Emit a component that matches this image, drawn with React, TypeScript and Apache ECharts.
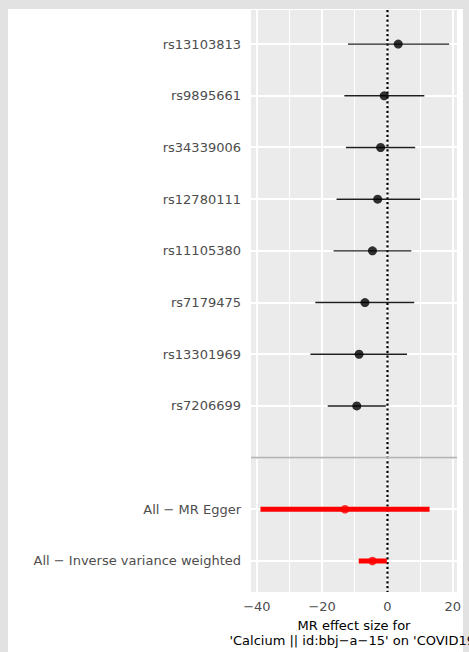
import React, { useEffect, useRef } from "react";
import * as echarts from "echarts";

// ---- data ----
const rowLabels = [
  "rs13103813",
  "rs9895661",
  "rs34339006",
  "rs12780111",
  "rs11105380",
  "rs7179475",
  "rs13301969",
  "rs7206699",
  "",
  "All − MR Egger",
  "All − Inverse variance weighted",
];
const snpRows = [0, 1, 2, 3, 4, 5, 6, 7];
const snpEffect = [3.3, -1.0, -2.1, -3.0, -4.6, -6.9, -8.7, -9.4];
const snpLower = [-12.1, -13.2, -12.7, -15.6, -16.5, -22.1, -23.6, -18.3];
const snpUpper = [18.9, 11.3, 8.5, 10.0, 7.3, 8.2, 6.0, -0.5];
const allRows = [9, 10];
const allEffect = [-13.0, -4.6];
const allLower = [-38.9, -8.8];
const allUpper = [12.9, -0.2];
const separatorRows = [8];
const xTicks = [-40, -20, 0, 20];
const xMinorGrid = [-30, -10, 10];
const zeroLine = [0];
const xMin = -41.8;
const xMax = 21.3;
const yMin = -0.66;
const yMax = 10.6;
const axisTitle = "MR effect size for\n'Calcium || id:bbj−a−15' on 'COVID19'";

const FONT = "DejaVu Sans";
const GRID_COLOR = "#ffffff";

export default function App() {
  const ref = useRef<HTMLDivElement>(null);

  useEffect(() => {
    if (!ref.current) return;
    const chart = echarts.init(ref.current, undefined, { renderer: "svg" });
    const rowIdx = rowLabels.map((_, i) => i);

    const panelItem = (params: any, api: any) => {
      const cs = params.coordSys;
      const children: any[] = [
        {
          type: "rect",
          shape: { x: cs.x, y: cs.y, width: cs.width, height: cs.height },
          style: { fill: "#ebebeb" },
        },
      ];
      const vl = (v: number, w: number) => {
        const raw = api.coord([v, 0])[0];
        const x = w % 2 === 0 ? Math.round(raw) : Math.floor(raw) + 0.5;
        children.push({
          type: "line",
          shape: { x1: x, y1: cs.y, x2: x, y2: cs.y + cs.height },
          style: { stroke: GRID_COLOR, lineWidth: w, fill: "none" },
        });
      };
      xMinorGrid.forEach((v) => vl(v, 1));
      xTicks.forEach((v) => vl(v, 2));
      rowIdx.forEach((i) => {
        const y = Math.round(api.coord([0, i])[1]);
        children.push({
          type: "line",
          shape: { x1: cs.x, y1: y, x2: cs.x + cs.width, y2: y },
          style: { stroke: GRID_COLOR, lineWidth: 2, fill: "none" },
        });
      });
      return { type: "group", children };
    };

    const vLine = (color: string, width: number, dash?: number[]) => (params: any, api: any) => {
      const cs = params.coordSys;
      const x = api.coord([api.value(0), 0])[0];
      return {
        type: "line",
        shape: { x1: x, y1: cs.y, x2: x, y2: cs.y + cs.height },
        style: { stroke: color, lineWidth: width, lineDash: dash },
      };
    };
    const hLine = (color: string, width: number) => (params: any, api: any) => {
      const cs = params.coordSys;
      const y = api.coord([0, api.value(1)])[1];
      return {
        type: "line",
        shape: { x1: cs.x, y1: y, x2: cs.x + cs.width, y2: y },
        style: { stroke: color, lineWidth: width },
      };
    };
    const errBar = (color: string, width: number) => (params: any, api: any) => {
      const p1 = api.coord([api.value(0), api.value(2)]);
      const p2 = api.coord([api.value(1), api.value(2)]);
      return {
        type: "line",
        shape: { x1: p1[0], y1: p1[1], x2: p2[0], y2: p2[1] },
        style: { stroke: color, lineWidth: width },
      };
    };

    const option: any = {
      animation: false,
      backgroundColor: "transparent",
      grid: {
        left: 251,
        right: 12,
        top: 10,
        bottom: 60,
        show: false,
        containLabel: false,
        outerBoundsMode: "none",
      },
      xAxis: {
        type: "value",
        min: xMin,
        max: xMax,
        axisLine: { show: false },
        splitLine: { show: false },
        axisTick: {
          show: true,
          customValues: xTicks,
          length: 4,
          lineStyle: { color: "#333333", width: 1.4 },
        },
        axisLabel: {
          customValues: xTicks,
          formatter: (v: number) => (v < 0 ? "−" + Math.abs(v) : String(v)),
          color: "#4d4d4d",
          fontSize: 13,
          fontFamily: FONT,
          margin: 8,
        },
        name: axisTitle,
        nameLocation: "middle",
        nameGap: 24,
        nameTextStyle: { color: "#000", fontSize: 13, fontFamily: FONT, lineHeight: 15 },
      },
      yAxis: {
        type: "value",
        inverse: true,
        min: yMin,
        max: yMax,
        axisLine: { show: false },
        splitLine: { show: false },
        axisTick: {
          show: true,
          customValues: rowIdx,
          length: 4,
          lineStyle: { color: "#333333", width: 1.4 },
        },
        axisLabel: {
          customValues: rowIdx,
          formatter: (v: number) => rowLabels[Math.round(v)] ?? "",
          color: "#4d4d4d",
          fontSize: 13,
          fontFamily: FONT,
          margin: 10,
        },
      },
      series: [
        {
          type: "custom",
          z: 1,
          silent: true,
          data: [[0, 0]],
          encode: { x: 0, y: 1 },
          renderItem: panelItem,
        },
        {
          type: "custom",
          z: 4,
          silent: true,
          data: zeroLine.map((v) => [v, 0]),
          encode: { x: 0, y: 1 },
          renderItem: vLine("#000000", 2.2, [2.2, 2.6]),
        },
        {
          type: "custom",
          z: 5,
          silent: true,
          data: snpRows.map((r, i) => [snpLower[i], snpUpper[i], r]),
          encode: { x: [0, 1], y: 2 },
          renderItem: errBar("#1e1e1e", 1.4),
        },
        {
          type: "custom",
          z: 5,
          silent: true,
          data: allRows.map((r, i) => [allLower[i], allUpper[i], r]),
          encode: { x: [0, 1], y: 2 },
          renderItem: errBar("#ff0000", 5),
        },
        {
          type: "scatter",
          z: 6,
          silent: true,
          symbol: "circle",
          symbolSize: 9,
          itemStyle: { color: "#000000" },
          data: snpRows.map((r, i) => [snpEffect[i], r]),
        },
        {
          type: "scatter",
          z: 6,
          silent: true,
          symbol: "circle",
          symbolSize: 8.5,
          itemStyle: { color: "#ff0000" },
          data: allRows.map((r, i) => [allEffect[i], r]),
        },
        {
          type: "custom",
          z: 7,
          silent: true,
          data: separatorRows.map((r) => [0, r]),
          encode: { x: 0, y: 1 },
          renderItem: hLine("#b4b4b4", 1.8),
        },
      ],
    };
    chart.setOption(option);
    return () => chart.dispose();
  }, []);

  return (
    <div
      style={{
        position: "fixed",
        left: 0,
        top: 0,
        width: 469,
        height: 652,
        background: "#e2e2e2",
        overflow: "hidden",
      }}
    >
      <div
        style={{ position: "absolute", left: 8, top: 9, width: 455, height: 643, background: "#ffffff" }}
      />
      <div ref={ref} style={{ position: "absolute", left: 0, top: 0, width: 469, height: 652 }} />
    </div>
  );
}
